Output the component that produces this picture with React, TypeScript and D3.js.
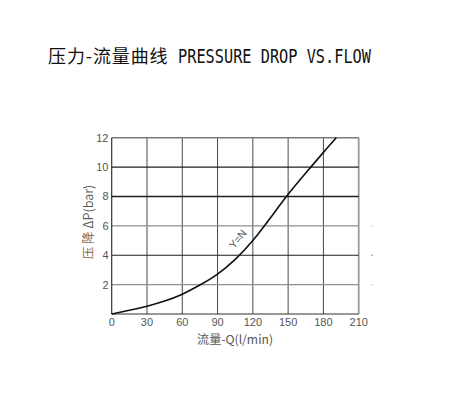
import React from "react";
import * as d3 from "d3";

// Flow (l/min) vs. pressure drop (bar) for the Y=N curve
const flow = [0, 15, 30, 45, 60, 75, 90, 105, 120, 135, 150, 165, 180, 191];
const pressureDrop = [0, 0.25, 0.53, 0.88, 1.35, 1.97, 2.72, 3.72, 5.0, 6.55, 8.15, 9.6, 11.0, 12];

const xTicks = [0, 30, 60, 90, 120, 150, 180, 210];
const yTicks = [2, 4, 6, 8, 10, 12];
// Horizontal grid strength per tick (darker lines at 4, 8, 10)
const darkRows = [4, 8, 10];

const W = 456;
const H = 408;
const left = 111.7;
const right = 358.7;
const top = 137.7;
const bottom = 314;

export default function App() {
  const x = d3.scaleLinear().domain([0, 210]).range([left, right]);
  const y = d3.scaleLinear().domain([0, 12]).range([bottom, top]);

  const pts: [number, number][] = flow.map((f, i) => [f, pressureDrop[i]]);
  const line = d3
    .line<[number, number]>()
    .x((d) => x(d[0]))
    .y((d) => y(d[1]))
    .curve(d3.curveNatural);

  const tickFont = "'Liberation Sans', Arial, sans-serif";
  const lx = x(107) + 3;
  const ly = y(4.6) - 5;

  return (
    <svg
      width={W}
      height={H}
      viewBox={`0 0 ${W} ${H}`}
      style={{ position: "absolute", left: 0, top: 0, background: "#fff" }}
    >
      <rect x={0} y={0} width={W} height={H} fill="#fff" />

      {/* Title */}
      <text
        x={48}
        y={63}
        fontFamily="'Noto Sans CJK SC', sans-serif"
        fontSize={18}
        fill="#111"
        textLength={119.6}
        lengthAdjust="spacing"
      >
        压力-流量曲线
      </text>
      <text
        x={178}
        y={63}
        fontFamily="'DejaVu Sans Mono', 'Liberation Mono', monospace"
        fontSize={19}
        fill="#111"
        textLength={193}
        lengthAdjust="spacingAndGlyphs"
      >
        PRESSURE DROP VS.FLOW
      </text>

      {/* Vertical grid */}
      {xTicks.slice(1).map((t) => (
        <line
          key={`v${t}`}
          x1={x(t)}
          x2={x(t)}
          y1={top}
          y2={bottom}
          stroke={t === 210 ? "#9a9a9a" : "#4a4a4a"}
          strokeWidth={t === 210 ? 1.8 : 1}
        />
      ))}

      {/* Horizontal grid */}
      {yTicks.map((t) => {
        const dark = darkRows.includes(t);
        return (
          <line
            key={`h${t}`}
            x1={left}
            x2={right}
            y1={y(t)}
            y2={y(t)}
            stroke={dark ? "#1e1e1e" : t === 12 ? "#7a7a7a" : "#8f8f8f"}
            strokeWidth={t === 8 ? 1.5 : dark ? 1.1 : 1.4}
          />
        );
      })}

      {/* Axes */}
      <line x1={left} x2={left} y1={top} y2={bottom} stroke="#333" strokeWidth={1.2} />
      <line x1={left} x2={right} y1={bottom} y2={bottom} stroke="#333" strokeWidth={1.2} />

      {/* Small stubs right of the frame */}
      {[2, 4, 6].map((t) => (
        <rect
          key={`s${t}`}
          x={371.5}
          y={y(t) - 0.5}
          width={1.5}
          height={1}
          fill={t === 4 ? "#777" : "#bbb"}
        />
      ))}

      {/* Curve */}
      <path d={line(pts) ?? ""} fill="none" stroke="#111" strokeWidth={1.6} />

      {/* Curve label */}
      <text
        x={lx}
        y={ly}
        transform={`rotate(-50 ${lx} ${ly})`}
        fontFamily={tickFont}
        fontSize={10.5}
        fill="#555"
        textAnchor="middle"
      >
        Y=N
      </text>

      {/* X tick labels */}
      {xTicks.map((t) => (
        <text
          key={`xt${t}`}
          x={x(t)}
          y={326}
          textAnchor="middle"
          fontFamily={tickFont}
          fontSize={11}
          fill="#555"
        >
          {t}
        </text>
      ))}

      {/* Y tick labels */}
      {yTicks.map((t) => (
        <text
          key={`yt${t}`}
          x={108.5}
          y={y(t) + 4}
          textAnchor="end"
          fontFamily={tickFont}
          fontSize={11}
          fill="#555"
        >
          {t}
        </text>
      ))}

      {/* Axis titles */}
      <text
        x={235}
        y={344}
        textAnchor="middle"
        fontFamily="'Noto Sans CJK SC', sans-serif"
        fontSize={12}
        fill="#555"
        textLength={76}
        lengthAdjust="spacingAndGlyphs"
      >
        流量-Q(l/min)
      </text>
      <text
        x={93}
        y={222}
        transform="rotate(-90 93 222)"
        textAnchor="middle"
        fontFamily="'Noto Sans CJK SC', sans-serif"
        fontSize={12.5}
        fill="#5a5a5a"
      >
        <tspan fill="#8a6a4a">压 降</tspan> ΔP(bar)
      </text>
    </svg>
  );
}
